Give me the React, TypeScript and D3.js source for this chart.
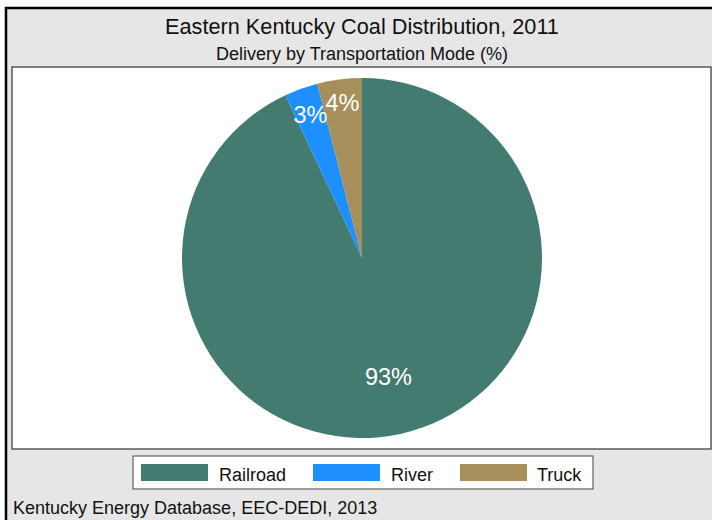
import React from "react";
import * as d3 from "d3";

const categories = ["Railroad", "River", "Truck"];
const values = [93, 3, 4];
const colors = ["#437b70", "#1e8fff", "#a68f5a"];
const labelRadiusFrac = [0.675, 0.846, 0.868];

const W = 712;
const H = 520;
const FONT = "'Liberation Sans', Arial, sans-serif";

export default function App() {
  const cx = 362;
  const cy = 258;
  const R = 180;
  const pie = d3.pie<number>().sort(null).value((d) => d)(values);
  const arc = d3.arc<d3.PieArcDatum<number>>().innerRadius(0).outerRadius(R);

  const legendItems = [
    { sx: 141, tx: 219 },
    { sx: 313, tx: 391 },
    { sx: 460, tx: 537 },
  ];

  return (
    <svg
      width={W}
      height={H}
      style={{ position: "absolute", left: 0, top: 0, display: "block" }}
      fontFamily={FONT}
    >
      <rect x={0} y={0} width={W} height={H} fill="#ffffff" />
      <rect x={6} y={8} width={W + 20} height={H + 20} fill="#e6e6e6" stroke="#000" strokeWidth={2.5} />
      <rect x={12} y={67} width={699} height={382} fill="#ffffff" stroke="#333" strokeWidth={1.2} />
      <text x={362} y={34} textAnchor="middle" fontSize={21.7} fill="#111">
        Eastern Kentucky Coal Distribution, 2011
      </text>
      <text x={362} y={60} textAnchor="middle" fontSize={18} fill="#111">
        Delivery by Transportation Mode (%)
      </text>
      <g transform={`translate(${cx},${cy})`}>
        {pie.map((p, i) => (
          <path key={categories[i]} d={arc(p) || ""} fill={colors[i]} />
        ))}
        {pie.map((p, i) => {
          const a = (p.startAngle + p.endAngle) / 2;
          const r = R * labelRadiusFrac[i];
          const x = Math.sin(a) * r;
          const y = -Math.cos(a) * r;
          return (
            <text
              key={"l" + i}
              x={x}
              y={y}
              textAnchor="middle"
              dominantBaseline="central"
              fontSize={23.5}
              fill="#ffffff"
            >
              {values[i]}%
            </text>
          );
        })}
      </g>
      <rect x={133} y={456} width={460} height={33} fill="#ffffff" stroke="#444" strokeWidth={1} />
      {categories.map((c, i) => (
        <g key={"lg" + c}>
          <rect x={legendItems[i].sx} y={464} width={67} height={17} fill={colors[i]} />
          <text x={legendItems[i].tx} y={480.5} fontSize={18} fill="#111">
            {c}
          </text>
        </g>
      ))}
      <text x={13} y={514} fontSize={18} fill="#111">
        Kentucky Energy Database, EEC-DEDI, 2013
      </text>
    </svg>
  );
}
